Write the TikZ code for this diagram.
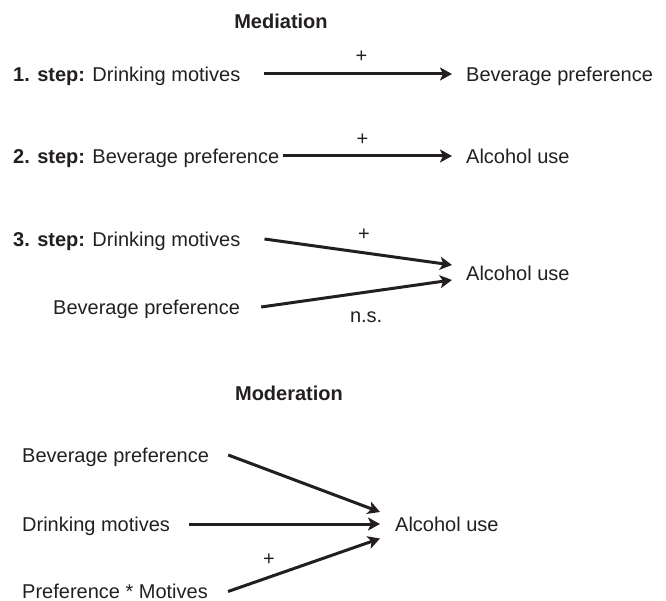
\documentclass[tikz,border=0pt]{standalone}
\usepackage{fontspec}
\setmainfont{Liberation Sans}
\usepackage{tikz}
\usepackage{xcolor}
\usetikzlibrary{arrows.meta}
\definecolor{ink}{RGB}{35,31,32}

\begin{document}
\begin{tikzpicture}[x=1pt, y=-1pt]
        \useasboundingbox (0,0) rectangle (666,601);
        \begin{scope}[every node/.style = {inner sep=0pt, text=ink, anchor=west,
                        text height=14.3pt, text depth=0pt,
                        font=\fontsize{20}{24}\selectfont}]
            \node (T1) at (281, 21) [anchor=center] {\textbf{Mediation}};

            \node (S1) at (13, 74)   {\textbf{1. step:} Drinking motives};
            \node (B1) at (466, 74)  {Beverage preference};

            \node (S2) at (13, 156)  {\textbf{2. step:} Beverage preference};
            \node (A2) at (466, 156) {Alcohol use};

            \node (S3) at (13, 239)  {\textbf{3. step:} Drinking motives};
            \node (B3) at (53, 307)  {Beverage preference};
            \node (A3) at (466, 273) {Alcohol use};

            \node (T2) at (289, 393) [anchor=center] {\textbf{Moderation}};

            \node (MB) at (22, 455)  {Beverage preference};
            \node (MD) at (22, 524)  {Drinking motives};
            \node (MP) at (22, 591.5)  {Preference * Motives};
            \node (MA) at (395, 524) {Alcohol use};
        \end{scope}

        \begin{scope}[>={Stealth[length=12pt,width=13pt,inset=3pt]},
                        every node/.style={inner sep=0pt, text=ink,
                            text height=14.3pt, text depth=0pt,
                            font=\fontsize{20}{24}\selectfont},
                        every edge/.style={draw=ink,line width=3pt}]
            \path [->] ([xshift=23pt]S1.east) edge node[pos=0.52,yshift=19pt] (P1) {+} ([xshift=-14pt]B1.west);
            \path [->] ([xshift=3.6pt]S2.east) edge node[pos=0.47,yshift=18pt] (P2) {+} ([xshift=-14pt]A2.west);

            \path [->] ([xshift=24pt]S3.east) edge node[pos=0.53,yshift=19pt] (P3) {+} ([xshift=-14pt,yshift=8pt]A3.west);
            \path [->] ([xshift=21pt]B3.east) edge node[pos=0.55,yshift=-23pt] (N3) {n.s.} ([xshift=-14pt,yshift=-7pt]A3.west);

            \path [->] ([xshift=19pt]MB.east) edge ([xshift=-15pt,yshift=12pt]MA.west);
            \path [->] ([xshift=19pt]MD.east) edge ([xshift=-15pt]MA.west);
            \path [->] ([xshift=20pt]MP.east) edge node[pos=0.27,yshift=19pt] (P4) {+} ([xshift=-15pt,yshift=-14.5pt]MA.west);
        \end{scope}
    \end{tikzpicture}
\end{document}
